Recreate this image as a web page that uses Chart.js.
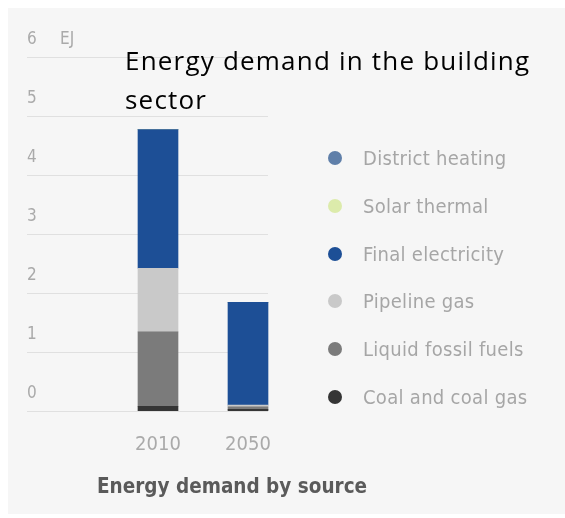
<!DOCTYPE html>
<html>
<head>
<meta charset="utf-8">
<script src="https://cdn.jsdelivr.net/npm/chart.js@4/dist/chart.umd.min.js"></script>
<style>
  html, body { margin: 0; padding: 0; background: #fff; }
  #panel { position: absolute; left: 8px; top: 8px; width: 557px; height: 506px; background: #f6f6f6; }
  #chart { position: absolute; left: 0; top: 0; }
  .narrow { font-family: "Liberation Sans Narrow", "DejaVu Sans Condensed", sans-serif; }
  #title { position: absolute; left: 125px; top: 41px; font: 26px "Open Sans", sans-serif; letter-spacing: 1.2px; line-height: 39px; color: #000; white-space: nowrap; }
  #caption { position: absolute; left: 97px; top: 474px; font-size: 20.5px; font-weight: bold; color: #5a5a5a; white-space: nowrap; }
  #legend { position: absolute; left: 327px; top: 145px; margin: 0; padding: 0; list-style: none; }
  #legend li { height: 47.8px; display: flex; align-items: flex-start; font-size: 20px; letter-spacing: 0.3px; color: #a6a6a6; line-height: 26px; }
  #legend .dot { width: 14px; height: 14px; border-radius: 50%; margin: 6px 21px 0 1px; }
</style>
</head>
<body>
<div id="panel"></div>
<canvas id="chart" width="565" height="518"></canvas>
<div id="title">Energy demand in the building<br>sector</div>
<div id="caption" class="narrow">Energy demand by source</div>
<ul id="legend" class="narrow"></ul>
<script>
// Building-sector energy demand, EJ
const years = ['2010', '2050'];
const coal = [0.08, 0.03];
const liquidFossil = [1.26, 0.04];
const pipelineGas = [1.08, 0.03];
const finalElectricity = [2.35, 1.74];
const solarThermal = [0, 0];
const districtHeating = [0, 0];
const yTicks = [0, 1, 2, 3, 4, 5, 6];

const NARROW = '"Liberation Sans Narrow", "DejaVu Sans Condensed", sans-serif';
const GRID_LEFT = 27, GRID_RIGHT = 268;

// stacked bottom-up; the legend lists them top-down
const series = [
    { label: 'Coal and coal gas', data: coal, color: '#353535' },
    { label: 'Liquid fossil fuels', data: liquidFossil, color: '#7b7b7b' },
    { label: 'Pipeline gas', data: pipelineGas, color: '#c9c9c9' },
    { label: 'Final electricity', data: finalElectricity, color: '#1d4f96' },
    { label: 'Solar thermal', data: solarThermal, color: '#dcebab' },
    { label: 'District heating', data: districtHeating, color: '#5f7fa9' }
];

// gridlines run out to the left under the value labels, so draw them by hand
const sideGrid = {
    id: 'sideGrid',
    beforeDatasetsDraw(chart) {
        const { ctx, scales: { y } } = chart;
        ctx.save();
        ctx.font = '17px ' + NARROW;
        ctx.fillStyle = '#aaaaaa';
        ctx.textBaseline = 'middle';
        ctx.textAlign = 'left';
        ctx.strokeStyle = '#e0e0e0';
        ctx.lineWidth = 1;
        yTicks.forEach(v => {
            const py = Math.round(y.getPixelForValue(v)) + 0.5;
            ctx.beginPath();
            ctx.moveTo(GRID_LEFT, py);
            ctx.lineTo(GRID_RIGHT, py);
            ctx.stroke();
            ctx.fillText(String(v), GRID_LEFT, py - 18);
            if (v === yTicks[yTicks.length - 1]) ctx.fillText('EJ', GRID_LEFT + 33, py - 18);
        });
        ctx.restore();
    }
};

const chart = new Chart(document.getElementById('chart'), {
    type: 'bar',
    data: {
        labels: years,
        datasets: series.map(s => ({
            label: s.label,
            data: s.data,
            backgroundColor: s.color,
            borderWidth: 0,
            barThickness: 40
        }))
    },
    options: {
        responsive: false,
        animation: false,
        layout: { padding: { left: 113, right: 272, top: 57, bottom: 39 } },
        plugins: { legend: { display: false }, tooltip: { enabled: false } },
        scales: {
            x: {
                stacked: true,
                grid: { display: false, drawTicks: false },
                border: { display: false },
                ticks: { color: '#aaaaaa', padding: 22, font: { family: NARROW, size: 20 } }
            },
            y: {
                stacked: true,
                display: false,
                min: 0,
                max: 6,
                ticks: { stepSize: 1 }
            }
        }
    },
    plugins: [sideGrid]
});

// legend list, top to bottom
const legendEl = document.getElementById('legend');
chart.data.datasets.slice().reverse().forEach(ds => {
    const li = document.createElement('li');
    li.innerHTML = `<span class="dot" style="background:${ds.backgroundColor}"></span><span>${ds.label}</span>`;
    legendEl.appendChild(li);
});
</script>
</body>
</html>
